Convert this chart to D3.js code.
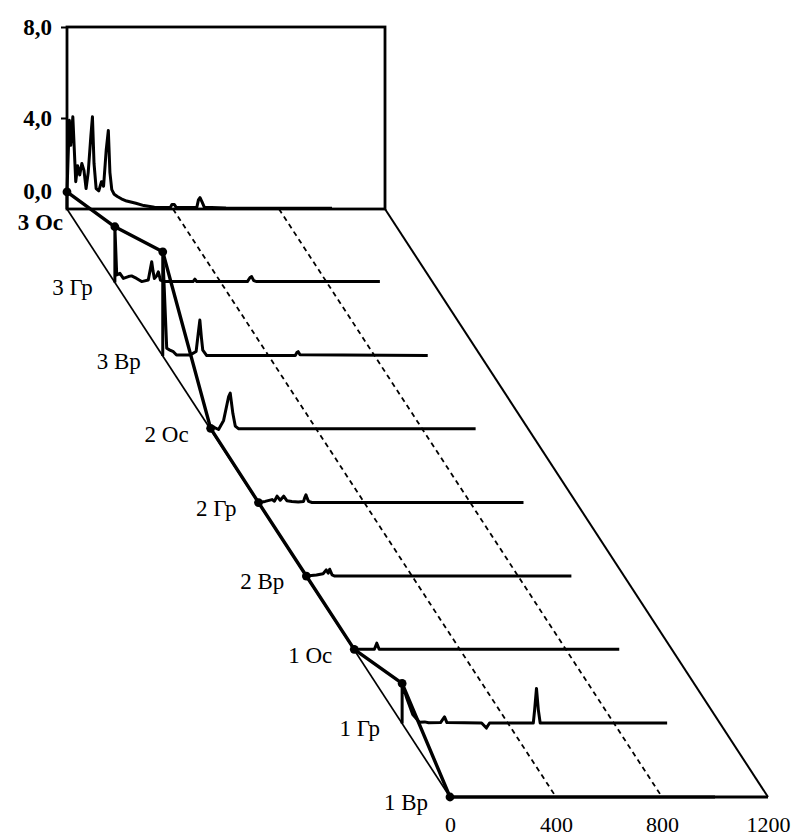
<!DOCTYPE html>
<html>
<head>
<meta charset="utf-8">
<script src="https://cdn.jsdelivr.net/npm/d3@7"></script>
<style>
  body { margin: 0; background: #fff; }
  svg { display: block; }
  text { font-family: "Liberation Serif", "Times New Roman", serif; fill: #000; }
</style>
</head>
<body>
<script>
// Sample sets, back (3 Ос) to front (1 Вр)
const seriesNames = ["3 Ос", "3 Гр", "3 Вр", "2 Ос", "2 Гр", "2 Вр", "1 Ос", "1 Гр", "1 Вр"];

// Each profile: [position, value]
const prof3Oc = [[0,0.75],[4,2.2],[9,3.9],[14,2.8],[22,4.05],[33,1.2],[40,1.9],[48,1.5],[56,2.0],[64,1.7],[72,0.9],[80,1.6],[90,3.2],[96,4.05],[102,2.0],[110,0.9],[120,0.8],[130,1.2],[138,1.0],[148,2.6],[156,3.45],[162,1.6],[169,0.85],[178,0.65],[190,0.55],[205,0.45],[225,0.35],[260,0.25],[290,0.15],[330,0.08],[390,0.07],[396,0.2],[405,0.2],[412,0.07],[490,0.08],[496,0.4],[502,0.5],[510,0.3],[518,0.08],[600,0.04],[1000,0.03]];
const prof3Gr = [[0,2.45],[7,0.33],[19,0.4],[32,0.18],[51,0.26],[63,0.29],[82,0.18],[101,0.04],[126,0.11],[134,0.6],[139,0.91],[144,0.5],[149,0.18],[158,0.3],[164,0.47],[172,0.1],[185,0.04],[295,0.04],[302,0.15],[309,0.04],[500,0.04],[510,0.22],[516,0.26],[524,0.08],[535,0.04],[1000,0.04]];
const prof3Vr = [[0,4.58],[15,0.34],[27,0.26],[40,0.19],[52,0.04],[102,0.04],[126,0.2],[134,1.0],[140,1.58],[146,0.8],[151,0.26],[166,0.02],[500,0.02],[506,0.15],[511,0.19],[518,0.05],[1000,0.02]];
const prof2Oc = [[0,0.05],[11,0.1],[30,0.0],[49,0.4],[68,1.45],[74,1.6],[84,0.7],[93,0.15],[106,0.03],[1000,0.03]];
const prof2Gr = [[0,0.02],[25,0.07],[51,0.15],[60,0.08],[70,0.3],[82,0.12],[95,0.3],[107,0.1],[126,0.07],[150,0.04],[170,0.07],[175,0.25],[179,0.36],[184,0.2],[189,0.07],[202,0.02],[1000,0.02]];
const prof2Vr = [[0,0.02],[38,0.07],[63,0.12],[75,0.29],[82,0.15],[88,0.32],[97,0.07],[107,0.02],[1000,0.02]];
const prof1Oc = [[0,0.03],[76,0.03],[85,0.3],[94,0.03],[1000,0.03]];
const prof1Gr = [[0,1.76],[18,1.1],[40,0.4],[55,0.2],[66,0.05],[85,0.07],[100,0.03],[145,0.04],[154,0.19],[160,0.29],[169,0.04],[300,0.02],[318,-0.2],[330,0.02],[495,0.02],[500,0.6],[507,1.54],[514,0.6],[521,0.02],[1000,0.02]];
const prof1Vr = [[0,0],[1000,0]];
const profiles = [prof3Oc, prof3Gr, prof3Vr, prof2Oc, prof2Gr, prof2Vr, prof1Oc, prof1Gr, prof1Vr];

// Axis ticks
const valueTicks = [0, 4, 8];
const positionTicks = [0, 400, 800, 1200];
const guideTicks = [400, 800];

const W = 803, H = 839;
const svg = d3.select("body").append("svg").attr("width", W).attr("height", H);

// Oblique projection: back corner and front corner of the floor
const back = { x: 67, y: 209 }, front = { x: 450, y: 797 };
const xs = d3.scaleLinear().domain([0, 1200]).range([0, 318]);
const vs = d3.scaleLinear().domain([0, 8]).range([0, -182]);
const depth = d3.scalePoint().domain(seriesNames).range([0, 1]);

function origin(name) {
  const t = depth(name);
  return [back.x + t * (front.x - back.x), back.y + t * (front.y - back.y)];
}
function proj(name, p, v) {
  const [ox, oy] = origin(name);
  return [ox + xs(p), oy + vs(v)];
}

const ink = "#000";

// Back wall
svg.append("rect")
  .attr("x", back.x).attr("y", back.y + vs(8))
  .attr("width", xs(1200)).attr("height", -vs(8))
  .attr("fill", "none").attr("stroke", ink).attr("stroke-width", 2.8);

// Floor edges
const line = d3.line();
svg.append("path")
  .attr("d", line([[back.x, back.y], [front.x, front.y]]))
  .attr("stroke", ink).attr("stroke-width", 1.7).attr("fill", "none");
svg.append("path")
  .attr("d", line([[back.x + xs(1200), back.y], [front.x + xs(1200), front.y]]))
  .attr("stroke", ink).attr("stroke-width", 2).attr("fill", "none");
svg.append("path")
  .attr("d", line([[front.x, front.y], [front.x + xs(1200), front.y]]))
  .attr("stroke", ink).attr("stroke-width", 3).attr("fill", "none");

// Dashed guide lines across the floor
svg.selectAll("path.guide").data(guideTicks).join("path")
  .attr("class", "guide")
  .attr("d", d => line([[back.x + xs(d), back.y], [front.x + xs(d), front.y]]))
  .attr("stroke", ink).attr("stroke-width", 1.8)
  .attr("stroke-dasharray", "5,4").attr("fill", "none");

// Profiles: each starts on its own baseline
const traces = svg.append("g");
seriesNames.forEach((name, i) => {
  const pts = [proj(name, 0, 0)].concat(profiles[i].map(d => proj(name, d[0], d[1])));
  traces.append("path")
    .attr("d", line(pts))
    .attr("fill", "none").attr("stroke", ink)
    .attr("stroke-width", 3).attr("stroke-linejoin", "round");
});

// Connector through the starting values
const startPts = seriesNames.map((name, i) => proj(name, profiles[i][0][0], profiles[i][0][1]));
svg.append("path")
  .attr("d", line(startPts))
  .attr("fill", "none").attr("stroke", ink)
  .attr("stroke-width", 3.4).attr("stroke-linejoin", "round");
svg.selectAll("circle.start").data(startPts).join("circle")
  .attr("class", "start")
  .attr("cx", d => d[0]).attr("cy", d => d[1]).attr("r", 4.4).attr("fill", ink);

// Value axis on the back wall
const vAxisScale = d3.scaleLinear().domain([0, 8]).range([back.y, back.y + vs(8)]);
const vAxis = svg.append("g")
  .attr("transform", `translate(${back.x},0)`)
  .call(d3.axisLeft(vAxisScale).tickValues(valueTicks).tickSize(6).tickPadding(9)
    .tickFormat(d => d.toFixed(1).replace(".", ",")));
vAxis.select(".domain").remove();
vAxis.selectAll(".tick line").attr("stroke", ink).attr("stroke-width", 2)
  .filter(d => d === 0).remove();
vAxis.selectAll(".tick text")
  .attr("font-size", 23).attr("font-weight", "bold")
  .attr("font-family", "Liberation Serif, serif").attr("fill", ink)
  .filter(d => d === 0).attr("dy", "-0.45em");

// Position axis along the front edge
const pAxisScale = d3.scaleLinear().domain([0, 1200]).range([front.x, front.x + xs(1200)]);
const pAxis = svg.append("g")
  .attr("transform", `translate(0,${front.y})`)
  .call(d3.axisBottom(pAxisScale).tickValues(positionTicks).tickSize(0).tickPadding(19)
    .tickFormat(d3.format("d")));
pAxis.select(".domain").remove();
pAxis.selectAll(".tick text")
  .attr("font-size", 22).attr("font-family", "Liberation Serif, serif").attr("fill", ink);

// Sample labels
seriesNames.forEach((name, i) => {
  const [ox, oy] = origin(name);
  const isBack = i === 0;
  svg.append("text")
    .attr("x", isBack ? ox - 4 : ox - 22)
    .attr("y", isBack ? oy + 13 : oy + 5)
    .attr("text-anchor", "end")
    .attr("dominant-baseline", "central")
    .attr("font-size", 23)
    .attr("font-weight", isBack ? "bold" : "normal")
    .text(name);
});
</script>
</body>
</html>
